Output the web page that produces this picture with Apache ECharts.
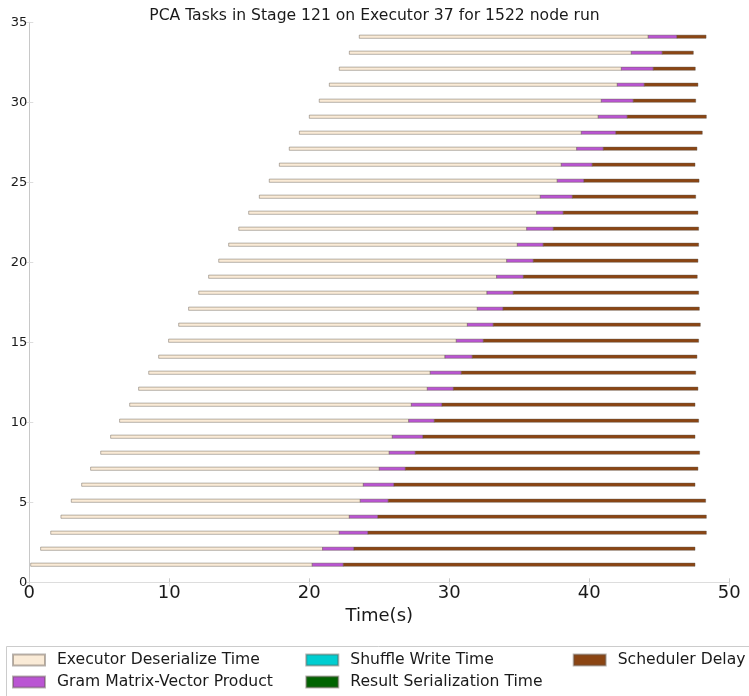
<!DOCTYPE html>
<html>
<head>
<meta charset="utf-8">
<script src="https://cdn.jsdelivr.net/npm/echarts@6/dist/echarts.min.js"></script>
<style>
html,body{margin:0;padding:0;background:#fff;}
#chart{width:749px;height:696px;}
</style>
</head>
<body>
<div id="chart"></div>
<script>
// Task rows (y position of each task bar)
var taskRows = [1,2,3,4,5,6,7,8,9,10,11,12,13,14,15,16,17,18,19,20,21,22,23,24,25,26,27,28,29,30,31,32,33,34];
// Launch offset of each task (s)
var taskStart = [0.10,0.81,1.53,2.26,3.00,3.74,4.38,5.10,5.81,6.45,7.17,7.81,8.53,9.24,9.95,10.67,11.38,12.10,12.81,13.53,14.24,14.96,15.67,16.43,17.14,17.86,18.57,19.29,20.00,20.71,21.43,22.14,22.86,23.57];
// Phase durations (s)
var executorDeserializeTime = [20.11,20.14,20.61,20.60,20.64,20.12,20.62,20.61,20.12,20.65,20.12,20.62,20.11,20.45,20.55,20.62,20.62,20.59,20.57,20.57,20.62,20.57,20.57,20.07,20.57,20.14,20.53,20.14,20.64,20.15,20.57,20.15,20.14,20.64];
var gramMatrixVectorProduct = [2.22,2.24,2.05,2.04,2.00,2.19,1.86,1.86,2.19,1.83,2.19,1.86,2.22,1.95,1.93,1.85,1.84,1.88,1.91,1.90,1.85,1.90,1.90,2.29,1.91,2.21,1.90,2.47,2.07,2.28,1.93,2.28,2.21,2.05];
var shuffleWriteTime = [0,0,0,0,0,0,0,0,0,0,0,0,0,0,0,0,0,0,0,0,0,0,0,0,0,0,0,0,0,0,0,0,0,0];
var resultSerializationTime = [0,0,0,0,0,0,0,0,0,0,0,0,0,0,0,0,0,0,0,0,0,0,0,0,0,0,0,0,0,0,0,0,0,0];
var schedulerDelay = [25.12,24.36,24.17,23.46,22.67,21.50,20.90,20.31,19.43,18.88,18.07,17.47,16.74,16.05,15.38,14.79,14.02,13.24,12.42,11.76,11.10,10.38,9.62,8.81,8.22,7.34,6.69,6.17,5.65,4.46,3.83,3.00,2.22,2.08];

var phaseNames = ['Executor Deserialize Time','Gram Matrix-Vector Product','Shuffle Write Time','Result Serialization Time','Scheduler Delay'];
var phaseColors = ['#FAEBD7','#BA55D3','#00CED1','#006400','#8B4513'];
var phaseData = [executorDeserializeTime, gramMatrixVectorProduct, shuffleWriteTime, resultSerializationTime, schedulerDelay];

var BAR_H = 0.2;
var EDGE = 'rgba(95,85,75,0.55)';
var FONT = 'DejaVu Sans';

// stacked segments: [left, right, row]
var cursor = taskStart.slice();
var series = phaseNames.map(function(name, k){
  var durs = phaseData[k];
  var data = taskRows.map(function(row, i){
    var l = cursor[i], r = cursor[i] + durs[i];
    cursor[i] = r;
    return [l, r, row];
  });
  var color = phaseColors[k];
  return {
    name: name,
    type: 'custom',
    xAxisIndex: 0, yAxisIndex: 0,
    itemStyle: {color: color, borderColor: 'rgba(95,85,75,0.45)', borderWidth: 0.6},
    encode: {x: [0,1], y: 2},
    data: data,
    renderItem: function(params, api){
      var x0 = api.value(0), x1 = api.value(1), y = api.value(2);
      if (x1 - x0 <= 0) return null;
      var p0 = api.coord([x0, y]);
      var p1 = api.coord([x1, y + BAR_H]);
      return {
        type: 'rect',
        shape: {x: p0[0], y: p1[1], width: p1[0] - p0[0], height: p0[1] - p1[1]},
        style: {fill: color, stroke: EDGE, lineWidth: 0.8}
      };
    }
  };
});

var legendCommon = {
  orient: 'vertical', padding: 0, itemGap: 6,
  itemWidth: 32, itemHeight: 11, icon: 'rect',
  textStyle: {fontFamily: FONT, fontSize: 15.6, color: '#1a1a1a', lineHeight: 16, padding: [0,0,0,7]},
  selectedMode: false
};

var chart = echarts.init(document.getElementById('chart'), null, {renderer: 'canvas'});
chart.setOption({
  animation: false,
  backgroundColor: '#fff',
  title: {
    text: 'PCA Tasks in Stage 121 on Executor 37 for 1522 node run',
    left: 'center', top: 8, padding: 0,
    textStyle: {fontFamily: FONT, fontSize: 15.6, fontWeight: 'normal', color: '#1a1a1a'}
  },
  grid: {left: 29.3, right: 19.7, top: 22.3, bottom: 113.7, containLabel: false, outerBoundsMode: 'none'},
  xAxis: [{
    type: 'value', min: 0, max: 50, interval: 10, position: 'bottom',
    name: 'Time(s)', nameLocation: 'middle', nameGap: 17,
    nameTextStyle: {fontFamily: FONT, fontSize: 18, color: '#1a1a1a'},
    axisLine: {show: true, lineStyle: {color: '#cccccc', width: 1}},
    axisTick: {show: true, inside: true, length: 4, lineStyle: {color: '#cccccc'}},
    axisLabel: {fontFamily: FONT, fontSize: 18, color: '#1a1a1a', margin: 2},
    splitLine: {show: false}
  },{
    type: 'value', min: 0, max: 50, interval: 10, position: 'top',
    axisLine: {show: true, lineStyle: {color: '#dddddd', width: 1}},
    axisTick: {show: true, inside: true, length: 4, lineStyle: {color: '#dddddd'}},
    axisLabel: {show: false}, splitLine: {show: false}
  }],
  yAxis: [{
    type: 'value', min: 0, max: 35, interval: 5, position: 'left',
    axisLine: {show: true, lineStyle: {color: '#dddddd', width: 1}},
    axisTick: {show: true, inside: true, length: 4, lineStyle: {color: '#dddddd'}},
    axisLabel: {fontFamily: FONT, fontSize: 13, color: '#1a1a1a', margin: 2},
    splitLine: {show: false}
  },{
    type: 'value', min: 0, max: 35, interval: 5, position: 'right',
    axisLine: {show: true, lineStyle: {color: '#c8c8c8', width: 1}},
    axisTick: {show: true, inside: true, length: 4, lineStyle: {color: '#dddddd'}},
    axisLabel: {show: false}, splitLine: {show: false}
  }],
  legend: [
    Object.assign({}, legendCommon, {left: 12, top: 652, data: [phaseNames[0], phaseNames[1]]}),
    Object.assign({}, legendCommon, {left: 305.3, top: 652, data: [phaseNames[2], phaseNames[3]]}),
    Object.assign({}, legendCommon, {left: 572.7, top: 652, data: [phaseNames[4]]})
  ],
  graphic: [{
    type: 'rect', silent: true, z: -1,
    shape: {x: 6.5, y: 646.5, width: 800, height: 80},
    style: {fill: 'none', stroke: '#cccccc', lineWidth: 1}
  }],
  series: series
});
</script>
</body>
</html>
